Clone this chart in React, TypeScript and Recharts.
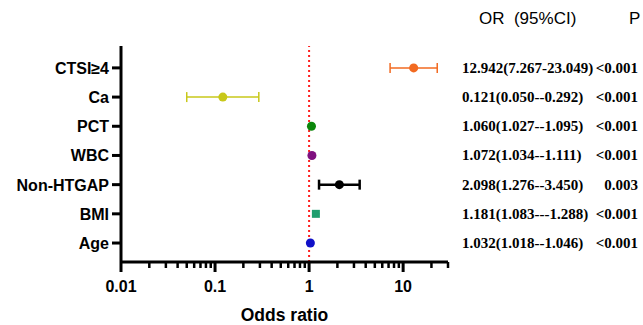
import { ScatterChart, Scatter, XAxis, YAxis, ZAxis, ErrorBar, ReferenceLine } from "recharts";

const factors = ["CTSI≥4", "Ca", "PCT", "WBC", "Non-HTGAP", "BMI", "Age"];
const oddsRatio = [12.942, 0.121, 1.06, 1.072, 2.098, 1.181, 1.032];
const ciLow = [7.267, 0.05, 1.027, 1.034, 1.276, 1.083, 1.018];
const ciHigh = [23.049, 0.292, 1.095, 1.111, 3.45, 1.288, 1.046];
const ciText = [
  "12.942(7.267-23.049)",
  "0.121(0.050--0.292)",
  "1.060(1.027--1.095)",
  "1.072(1.034--1.111)",
  "2.098(1.276--3.450)",
  "1.181(1.083---1.288)",
  "1.032(1.018--1.046)",
];
const pText = ["<0.001", "<0.001", "<0.001", "<0.001", "0.003", "<0.001", "<0.001"];
const majorTicks = [0.01, 0.1, 1, 10];
const minorTicks = [
  0.02, 0.03, 0.04, 0.05, 0.06, 0.07, 0.08, 0.09,
  0.2, 0.3, 0.4, 0.5, 0.6, 0.7, 0.8, 0.9,
  2, 3, 4, 5, 6, 7, 8, 9,
  20, 30,
];

const colors = ["#f26a21", "#c8c81a", "#0b870b", "#7f107f", "#000000", "#1e9e6e", "#1010c8"];
const shapes = ["circle", "circle", "circle", "circle", "circle", "square", "circle"];
const barWidths = [1.5, 1.5, 1.5, 1.5, 2.5, 1.5, 1.5];
const capWidths = [5, 5, 0, 0, 5, 0, 0];

const rowPos = factors.map((_, i) => factors.length - i);
const allTicks = [...majorTicks, ...minorTicks].sort((a, b) => a - b);

const sans = "'Liberation Sans', Arial, sans-serif";
const serif = "'Liberation Serif', 'Times New Roman', serif";

function XTick(props: any) {
  const { x, y, payload } = props;
  const major = majorTicks.includes(payload.value);
  return (
    <g>
      <line x1={x} x2={x} y1={y} y2={y + (major ? 10 : 6)} stroke="#000" strokeWidth={major ? 3 : 2.5} />
      {major && (
        <text x={x} y={y + 30} textAnchor="middle" fontFamily={sans} fontWeight="bold" fontSize={16} fill="#000">
          {String(payload.value)}
        </text>
      )}
    </g>
  );
}

// left labels plus the OR / P table on the right, one row per tick
function RowTick(props: any) {
  const { x, y, payload } = props;
  const i = factors.length - payload.value;
  return (
    <g>
      <text x={x} y={y + 6} textAnchor="end" fontFamily={sans} fontWeight="bold" fontSize={16} fill="#000">
        {factors[i]}
      </text>
      <g fontFamily={serif} fontWeight="bold" fontSize={15} fill="#000">
        <text x={462} y={y + 5}>{ciText[i]}</text>
        <text x={638} y={y + 5} textAnchor="end">{pText[i]}</text>
      </g>
    </g>
  );
}

export default function App() {
  return (
    <div style={{ position: "absolute", left: 0, top: 0, width: 643, height: 325, background: "#fff" }}>
      <div
        style={{
          position: "absolute",
          left: 479,
          top: 9,
          fontFamily: sans,
          fontSize: 17,
          whiteSpace: "pre",
          color: "#000",
        }}
      >
        {"OR  (95%CI)"}
      </div>
      <div style={{ position: "absolute", left: 629, top: 9, fontFamily: sans, fontSize: 17, color: "#000" }}>P</div>
      <ScatterChart width={643} height={325} margin={{ top: 46, right: 195, bottom: 0, left: 0 }}>
        <XAxis
          type="number"
          dataKey="x"
          scale="log"
          domain={[0.01, 30]}
          allowDataOverflow
          ticks={allTicks}
          interval={0}
          tick={<XTick />}
          tickLine={false}
          tickSize={0}
          tickMargin={0}
          axisLine={{ stroke: "#000", strokeWidth: 3 }}
          height={63}
          label={{
            value: "Odds ratio",
            position: "insideBottom",
            offset: 4,
            fontFamily: sans,
            fontWeight: "bold",
            fontSize: 17.5,
            fill: "#000",
          }}
        />
        <YAxis
          type="number"
          dataKey="y"
          domain={[0.35, 7.75]}
          ticks={rowPos}
          interval={0}
          width={121}
          tickSize={9}
          tickMargin={3}
          tick={<RowTick />}
          tickLine={{ stroke: "#000", strokeWidth: 3 }}
          axisLine={{ stroke: "#000", strokeWidth: 3 }}
        />
        <ZAxis range={[95, 95]} />
        <ReferenceLine x={1} stroke="#ff2020" strokeWidth={2} strokeDasharray="2 3" />
        {factors.map((name, i) => (
          <Scatter
            key={name}
            name={name}
            data={[{ x: oddsRatio[i], y: rowPos[i], err: [oddsRatio[i] - ciLow[i], ciHigh[i] - oddsRatio[i]] }]}
            fill={colors[i]}
            shape={shapes[i] as any}
            isAnimationActive={false}
          >
            <ErrorBar dataKey="err" direction="x" width={capWidths[i]} stroke={colors[i]} strokeWidth={barWidths[i]} />
          </Scatter>
        ))}
      </ScatterChart>
    </div>
  );
}
